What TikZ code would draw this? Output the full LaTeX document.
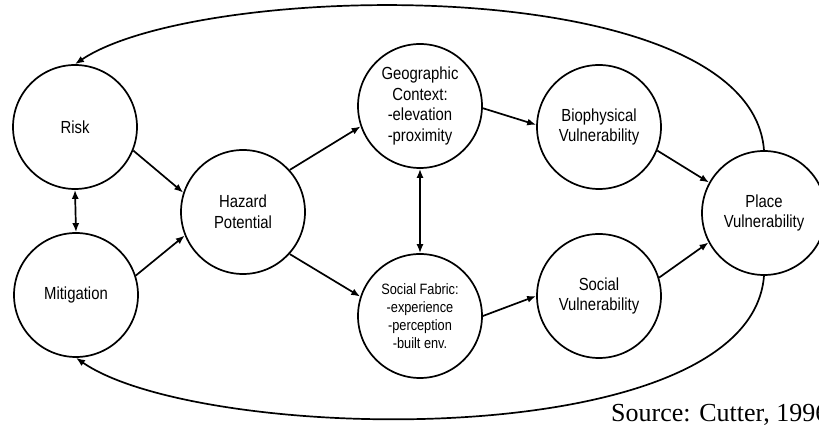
\documentclass[tikz,border=0pt]{standalone}
\usepackage{fontspec}
\usetikzlibrary{arrows.meta}
\setmainfont{Liberation Sans}
\newfontfamily\bubblefont[FakeStretch=0.85]{Liberation Sans}
\newfontfamily\srcfont{Liberation Serif}
\begin{document}
\begin{tikzpicture}[x=1pt,y=1pt,>={Latex[length=9pt,width=7pt]},
        bubble/.style={draw,circle,line width=1.7pt,minimum size=124pt,inner sep=0pt,align=center,
            font=\bubblefont\fontsize{17.5}{20.5}\selectfont},
        link/.style={line width=1.7pt}]
                \useasboundingbox (0,0) rectangle (819,430);
                \node[bubble] (risk) at (75,303) {Risk};
                \node[bubble] (mitig) at (76,135) {Mitigation};
                \node[bubble] (hazard) at (243,218) {Hazard\\Potential};
                \node[bubble] (geo) at (420,324) {Geographic\\Context:\\-elevation\\-proximity};
                \node[bubble,font=\bubblefont\fontsize{15}{18}\selectfont] (fabric) at (420,114)
                    {Social Fabric:\\-experience\\-perception\\-built env.};
                \node[bubble] (biophys) at (599,303) {Biophysical\\Vulnerability};
                \node[bubble] (socvul) at (599,134) {Social\\Vulnerability};
                \node[bubble] (place) at (764,217) {Place\\Vulnerability};
                \draw[link,<->] (risk.south)--(mitig.north);
                \draw[link,->] (risk.-22)--(hazard.162);
                \draw[link,->] (mitig.18)--(hazard.-158);
                \draw[link,->] (hazard.42)--(geo.-161);
                \draw[link,->] (hazard.-42)--(fabric.162);
                \draw[link,<->] (geo.south)--(fabric.north);
                \draw[link,->] (geo.-2)--(biophys.178);
                \draw[link,->] (fabric.east)--(socvul.west);
                \draw[link,->] (biophys.-22)--(place.151);
                \draw[link,->] (socvul.17)--(place.-152);
                \draw[link,->] (place.north) .. controls (750,460) and (200,450) .. (risk.north);
                \draw[link,->] (place.south) .. controls (750,-26) and (200,-14) .. (mitig.south);
                \node[anchor=west,inner sep=0pt,font=\srcfont\fontsize{26}{30}\selectfont] (source) at (611,15)
                    {Source: Cutter, 1996};
            \end{tikzpicture}
\end{document}
